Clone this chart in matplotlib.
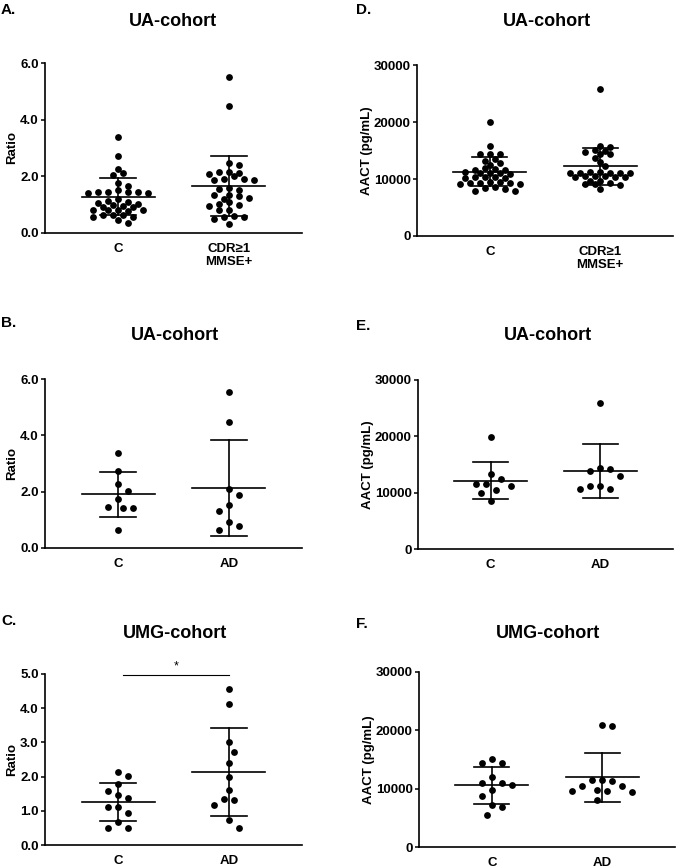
import numpy as np
import matplotlib
matplotlib.use("Agg")
import matplotlib.pyplot as plt

plt.rcParams['font.family'] = ['Liberation Sans', 'DejaVu Sans']
plt.rcParams['font.weight'] = 'bold'

################# Data
grpA = ["C", "CDR≥1\nMMSE+"]
grpAD = ["C", "AD"]

# A. UA-cohort ratio, C vs CDR>=1 MMSE+
A_C = [3.39, 2.73, 2.27, 2.12, 2.06, 1.76, 1.67, 1.51, 1.46, 1.44, 1.44, 1.42, 1.44, 1.40,
       1.20, 1.12, 1.09, 1.06, 1.04, 1.00, 0.95, 0.92, 0.90, 0.82, 0.82, 0.80, 0.80, 0.78,
       0.65, 0.62, 0.62, 0.55, 0.55, 0.45, 0.35]
A_CDR = [5.51, 4.47, 2.47, 2.40, 2.15, 2.12, 2.07, 2.14, 1.92, 1.87, 2.00, 1.88, 1.89,
         1.53, 1.59, 1.55, 1.35, 1.29, 1.35, 1.21, 1.24, 1.08, 1.04, 1.00, 0.94, 0.80,
         0.82, 0.61, 0.56, 0.49, 0.56, 0.32]
A_mean = [1.28, 1.65]
A_sd = [0.65, 1.06]

# B. UA-cohort ratio, C vs AD
B_C = [3.39, 2.72, 2.28, 2.03, 1.74, 1.42, 1.42, 1.45, 0.65]
B_AD = [5.53, 4.46, 2.10, 1.88, 1.51, 1.30, 0.93, 0.79, 0.63]
B_mean = [1.90, 2.13]
B_sd = [0.815, 1.72]

# C. UMG-cohort ratio, C vs AD
C_C = [2.12, 2.02, 1.78, 1.59, 1.36, 1.45, 1.10, 0.95, 1.12, 0.68, 0.49, 0.49]
C_AD = [4.57, 4.12, 3.00, 2.73, 2.39, 2.00, 1.61, 1.31, 1.34, 1.16, 0.73, 0.49]
C_mean = [1.27, 2.13]
C_sd = [0.555, 1.295]

# D. UA-cohort AACT, C vs CDR>=1 MMSE+
D_C = [20058, 15848, 14386, 14386, 14386, 13158, 13450, 12749, 12515, 11871, 11579,
       11579, 11287, 10994, 10877, 11111, 10994, 11696, 10409, 10117, 10117, 10292, 10409,
       9532, 9357, 9123, 9123, 9357, 9357, 9532, 8538, 8246, 8363, 7953, 7953]
D_CDR = [25789, 15848, 15556, 15088, 14971, 14678, 14327, 14327, 13743, 12924, 12281,
         11287, 11111, 11111, 11111, 11111, 11111, 11287, 10526, 10409, 10292, 10409, 10526,
         10526, 9708, 9708, 9240, 9123, 8947, 9123, 8187]
D_mean = [11287, 12250]
D_sd = [2510, 3275]

# E. UA-cohort AACT, C vs AD
E_C = [19965, 12404, 13290, 11577, 11104, 9923, 10396, 11518, 8447]
E_AD = [25871, 14353, 14235, 13763, 12877, 11104, 10691, 10691, 11104]
E_mean = [12100, 13850]
E_sd = [3278, 4755]

# F. UMG-cohort AACT, C vs AD
F_C = [15143, 14400, 14400, 12000, 11029, 10571, 11029, 9714, 8686, 7143, 6857, 5429]
F_AD = [20686, 20857, 11429, 11314, 11429, 10400, 10400, 9829, 9429, 9543, 9543, 8114]
F_mean = [10571, 11943]
F_sd = [3143, 4229]

W, H = 685, 868
fig = plt.figure(figsize=(W/100, H/100), dpi=100)
XL = (-0.66, 1.66)


def swarm(vals, ylim, hpx, px_unit, g=5.0):
    # beeswarm on a 5 px grid, gives the staggered rows of a prism dot plot
    d = 6.0 if len(vals) > 20 else 10.0
    ypx = (np.array(vals, float)-ylim[0])/(ylim[1]-ylim[0])*hpx
    xs = np.zeros(len(vals))
    placed = []
    for i in np.argsort(-ypx):
        k = 0
        while True:
            cands = [0.0] if k == 0 else [k*g, -k*g]
            ok = [c for c in cands
                  if all((c-px)**2+(ypx[i]-py)**2 >= d*d for px, py in placed)]
            if ok:
                # pick the side with fewer points so it stays balanced
                if len(ok) == 2:
                    left = sum(1 for px, _ in placed if px < 0)
                    right = sum(1 for px, _ in placed if px > 0)
                    c = ok[0] if right <= left else ok[1]
                else:
                    c = ok[0]
                break
            k += 1
        placed.append((c, ypx[i]))
        xs[i] = c/px_unit
    return xs


def panel(box, groups, data, means, sds, ylim, yticks, yfmt, ylab, labx,
          letter, lpos, title, tpos):
    l, r, t, b = box
    ax = fig.add_axes([l/W, 1-b/H, (r-l)/W, (b-t)/H])
    px_unit = (r-l)/(XL[1]-XL[0])
    for i, vals in enumerate(data):
        xo = swarm(vals, ylim, b-t, px_unit)
        ax.scatter(i+xo, vals, s=24, color='black', zorder=3, clip_on=False, linewidths=0)
        m, s = means[i], sds[i]
        ax.plot([i-0.33, i+0.33], [m, m], color='black', lw=1.2, zorder=4)
        ax.plot([i-0.16, i+0.16], [m+s, m+s], color='black', lw=1.2, zorder=4)
        ax.plot([i-0.16, i+0.16], [m-s, m-s], color='black', lw=1.2, zorder=4)
        ax.plot([i, i], [m-s, m+s], color='black', lw=1.2, zorder=4)
    ax.set_xlim(XL)
    ax.set_ylim(ylim)
    ax.set_yticks(yticks)
    ax.set_yticklabels([yfmt.format(v) for v in yticks], fontsize=9.5, fontweight='bold')
    ax.set_xticks(range(len(groups)))
    ax.set_xticklabels(groups, fontsize=9.5, fontweight='bold', linespacing=1.1)
    ax.tick_params(axis='x', length=0, pad=7)
    ax.tick_params(axis='y', length=3, width=1.1, pad=1.5)
    ax.spines['top'].set_visible(False)
    ax.spines['right'].set_visible(False)
    ax.spines['left'].set_linewidth(1.2)
    ax.spines['bottom'].set_linewidth(1.2)
    ax.set_ylabel(ylab, fontsize=9.5, fontweight='bold')
    ax.yaxis.set_label_coords(labx, 0.5)
    fig.text(lpos[0]/W, 1-lpos[1]/H, letter, fontsize=11, fontweight='bold', va='top', ha='left')
    fig.text(tpos[0]/W, 1-tpos[1]/H, title, fontsize=13, fontweight='bold', va='center', ha='center')
    return ax


rt = [0, 2, 4, 6]
at = [0, 10000, 20000, 30000]
panel((45, 302, 63, 233), grpA, [A_C, A_CDR], A_mean, A_sd, (0, 6), rt, "{:.1f}",
      "Ratio", -0.105, "A.", (1, 3), "UA-cohort", (173, 21))
panel((45, 302, 379, 548), grpAD, [B_C, B_AD], B_mean, B_sd, (0, 6), rt, "{:.1f}",
      "Ratio", -0.105, "B.", (1, 316), "UA-cohort", (175, 335))
axC = panel((45, 302, 674, 845), grpAD, [C_C, C_AD], C_mean, C_sd, (0, 5), [0, 1, 2, 3, 4, 5], "{:.1f}",
            "Ratio", -0.105, "C.", (1, 614), "UMG-cohort", (175, 634))
panel((417, 673, 65, 236), grpA, [D_C, D_CDR], D_mean, D_sd, (0, 30000), at, "{:d}",
      "AACT (pg/mL)", -0.172, "D.", (356, 3), "UA-cohort", (547, 21))
panel((418, 673, 380, 549), grpAD, [E_C, E_AD], E_mean, E_sd, (0, 30000), at, "{:d}",
      "AACT (pg/mL)", -0.172, "E.", (356, 319), "UA-cohort", (548, 336))
panel((419, 675, 672, 847), grpAD, [F_C, F_AD], F_mean, F_sd, (0, 30000), at, "{:d}",
      "AACT (pg/mL)", -0.172, "F.", (356, 617), "UMG-cohort", (548, 634))

# significance bar in C
axC.plot([0.04, 1.0], [4.98, 4.98], color='black', lw=0.8, clip_on=False)
axC.text(0.52, 5.05, "*", ha='center', va='bottom', fontsize=9, fontweight='normal')

plt.savefig("out.png", dpi=100)
